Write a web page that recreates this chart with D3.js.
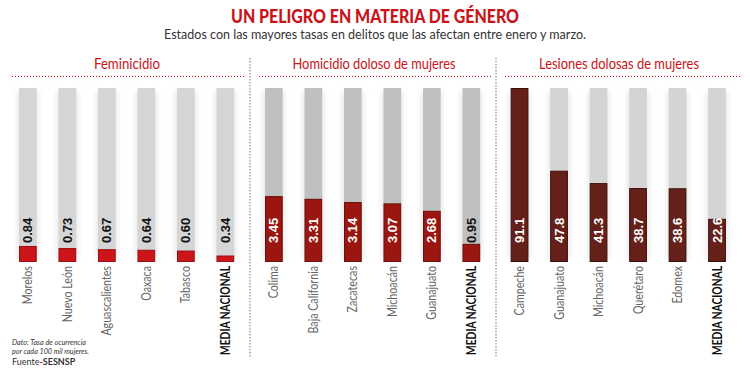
<!DOCTYPE html>
<html><head><meta charset="utf-8">
<script src="https://cdn.jsdelivr.net/npm/d3@7"></script>
<style>
html,body{margin:0;padding:0;background:#fff;}
svg{display:block;}
</style></head>
<body>
<script>
const titleText = "UN PELIGRO EN MATERIA DE GÉNERO";
const subtitleText = "Estados con las mayores tasas en delitos que las afectan entre enero y marzo.";
const panelTitles = ["Feminicidio", "Homicidio doloso de mujeres", "Lesiones dolosas de mujeres"];
const feminicidioStates = ["Morelos", "Nuevo León", "Aguascalientes", "Oaxaca", "Tabasco", "MEDIA NACIONAL"];
const feminicidioValues = [0.84, 0.73, 0.67, 0.64, 0.60, 0.34];
const feminicidioLabels = ["0.84", "0.73", "0.67", "0.64", "0.60", "0.34"];
const homicidioStates = ["Colima", "Baja California", "Zacatecas", "Michoacán", "Guanajuato", "MEDIA NACIONAL"];
const homicidioValues = [3.45, 3.31, 3.14, 3.07, 2.68, 0.95];
const homicidioLabels = ["3.45", "3.31", "3.14", "3.07", "2.68", "0.95"];
const lesionesStates = ["Campeche", "Guanajuato", "Michoacán", "Querétaro", "Edomex", "MEDIA NACIONAL"];
const lesionesValues = [91.1, 47.8, 41.3, 38.7, 38.6, 22.6];
const lesionesLabels = ["91.1", "47.8", "41.3", "38.7", "38.6", "22.6"];
const scaleMax = [9.11, 9.11, 91.1];
const footnote1 = "Dato: Tasa de ocurrencia";
const footnote2 = "por cada 100 mil mujeres.";

const panels = [
  {states: feminicidioStates, values: feminicidioValues, labels: feminicidioLabels, fill: "#cc1519", stroke: "#9a0f12", bg: "#d5d5d5", x0: 8.1},
  {states: homicidioStates, values: homicidioValues, labels: homicidioLabels, fill: "#9b1610", stroke: "#6e0e0a", bg: "#c0c0c0", x0: 254.1},
  {states: lesionesStates, values: lesionesValues, labels: lesionesLabels, fill: "#65201a", stroke: "#3a0f0b", bg: "#d4d4d4", x0: 499.8}
];

const W = 750, H = 381;
const FONT = "Lato,'Open Sans',sans-serif";
const svg = d3.select("body").append("svg").attr("width", W).attr("height", H);

const defs = svg.append("defs");
defs.append("filter").attr("id","glow").attr("x","-50%").attr("width","200%")
  .append("feGaussianBlur").attr("stdDeviation", 2.5);

svg.append("text").attr("x", 375).attr("y", 23).attr("text-anchor","middle")
  .attr("font-family", FONT).attr("font-weight","900").attr("font-size", 19)
  .attr("textLength", 288).attr("lengthAdjust","spacingAndGlyphs")
  .attr("fill", "#c8141a").text(titleText);
svg.append("text").attr("x", 375).attr("y", 39).attr("text-anchor","middle")
  .attr("font-family", FONT).attr("font-size", 14)
  .attr("textLength", 422).attr("lengthAdjust","spacingAndGlyphs")
  .attr("fill", "#333").text(subtitleText);

const yTop = 88, yBot = 262;
const hLines = [[12,244],[259,492],[505,740]];
const headerX = [127, 374, 619];
const headerW = [66, 163, 160];

panels.forEach((p, i) => {
  const g = svg.append("g");
  g.append("text").attr("x", headerX[i]).attr("y", 69).attr("text-anchor","middle")
    .attr("font-family", FONT).attr("font-size", 15).attr("fill", "#c8141a")
    .attr("textLength", headerW[i]).attr("lengthAdjust","spacingAndGlyphs")
    .text(panelTitles[i]);
  g.append("line").attr("x1", hLines[i][0]).attr("x2", hLines[i][1]).attr("y1", 76.5).attr("y2", 76.5)
    .attr("stroke", "#c8141a").attr("stroke-width", 1).attr("stroke-dasharray", "1,2");

  const x = d3.scaleBand().domain(p.states).range([p.x0, p.x0 + 6*39.5]).paddingInner(0.552).paddingOuter(0.276);
  const y = d3.scaleLinear().domain([0, scaleMax[i]]).range([yBot, yTop]);
  const bw = x.bandwidth();

  g.selectAll(".glow").data(p.states).join("rect")
    .attr("x", d => x(d) - 2).attr("width", bw + 4)
    .attr("y", y(scaleMax[i]) + 4).attr("height", y(0) - y(scaleMax[i]) - 8)
    .attr("fill", "#e8e8e8").attr("filter", "url(#glow)");
  g.selectAll(".bg").data(p.states).join("rect")
    .attr("x", d => x(d)).attr("width", bw)
    .attr("y", y(scaleMax[i])).attr("height", y(0) - y(scaleMax[i]))
    .attr("fill", p.bg);
  g.selectAll(".val").data(p.values).join("rect")
    .attr("x", (d, j) => x(p.states[j]) + 0.5).attr("width", bw - 1)
    .attr("y", d => y(d) + 0.5).attr("height", d => y(0) - y(d) - 1)
    .attr("fill", p.fill).attr("stroke", p.stroke).attr("stroke-width", 1);

  g.selectAll(".vlab").data(p.values).join("text")
    .attr("transform", (d, j) => `translate(${x(p.states[j]) + bw/2 + 4.5},243) rotate(-90)`)
    .attr("font-family", "'Liberation Sans',Arial,sans-serif").attr("font-weight", "bold").attr("font-size", 13)
    .attr("fill", d => y(d) < 230 ? "#fff" : "#111")
    .text((d, j) => p.labels[j]);

  g.selectAll(".clab").data(p.states).join("text")
    .attr("transform", d => `translate(${x(d) + bw/2 + 4.5},266) rotate(-90) scale(0.79,1)`)
    .attr("text-anchor", "end")
    .attr("font-family", FONT)
    .attr("font-weight", d => d === "MEDIA NACIONAL" ? "bold" : "normal")
    .attr("font-size", d => d === "MEDIA NACIONAL" ? 13 : 13.5)
    .attr("fill", d => d === "MEDIA NACIONAL" ? "#111" : "#666")
    .text(d => d);
});

[250, 496].forEach(xv => {
  svg.append("line").attr("x1", xv).attr("x2", xv).attr("y1", 58).attr("y2", 357)
    .attr("stroke", "#777").attr("stroke-width", 1).attr("stroke-dasharray", "1.5,1.5");
});

svg.append("text").attr("x", 12).attr("y", 345).attr("font-family", FONT)
  .attr("font-style","italic").attr("font-size", 8.5).attr("fill", "#333")
  .attr("textLength", 74).attr("lengthAdjust","spacingAndGlyphs").text(footnote1);
svg.append("text").attr("x", 12).attr("y", 354).attr("font-family", FONT)
  .attr("font-style","italic").attr("font-size", 8.5).attr("fill", "#333")
  .attr("textLength", 77).attr("lengthAdjust","spacingAndGlyphs").text(footnote2);
const f = svg.append("text").attr("x", 12).attr("y", 365).attr("font-family", FONT)
  .attr("font-size", 9).attr("fill", "#333");
f.append("tspan").text("Fuente");
f.append("tspan").attr("fill", "#c8141a").attr("font-weight","bold").text("-");
f.append("tspan").attr("font-weight","bold").text("SESNSP");
</script>
</body></html>
